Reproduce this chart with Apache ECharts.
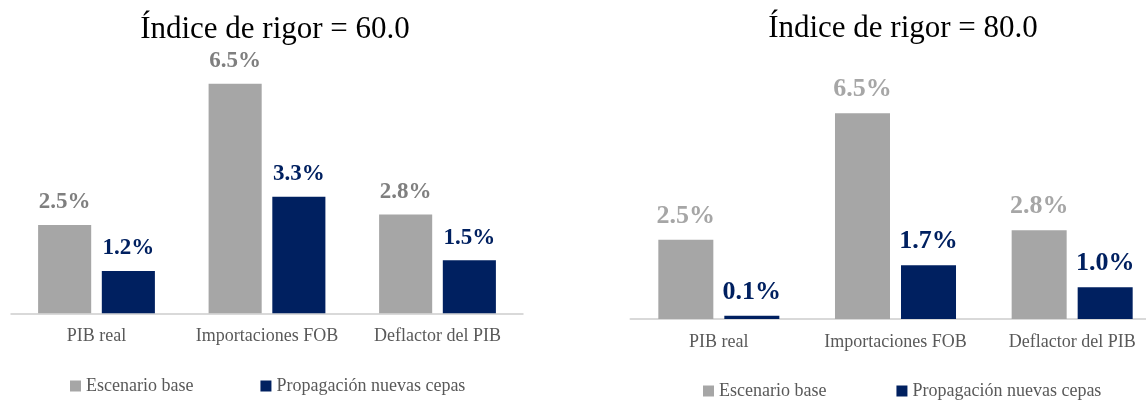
<!DOCTYPE html>
<html lang="es">
<head>
    <meta charset="UTF-8">
    <title>Índice de rigor</title>
    <script src="https://cdn.jsdelivr.net/npm/echarts@6/dist/echarts.min.js"></script>
    <style>
        html, body { margin: 0; padding: 0; background: #fff; overflow: hidden; }
        /* el grafico derecho sigue un poco mas alla del borde, como en el original */
        #main { width: 1170px; height: 402px; }
    </style>
</head>
<body>
<div id="main"></div>
<script>
    // datos (variacion %)
    var categorias = ['PIB real', 'Importaciones FOB', 'Deflactor del PIB'];
    var base60 = [2.5, 6.5, 2.8];
    var cepas60 = [1.2, 3.3, 1.5];
    var base80 = [2.5, 6.5, 2.8];
    var cepas80 = [0.1, 1.7, 1.0];
    var titulos = ['Índice de rigor = 60.0', 'Índice de rigor = 80.0'];
    var nombres = ['Escenario base', 'Propagación nuevas cepas'];

    var gris = '#a6a6a6', azul = '#002060';
    var serif = "'Liberation Serif', 'Times New Roman', serif";

    function fmt(p) {
        return p.value.toFixed(1) + '%';
    }

    function barra(nombre, datos, idx, color, labelColor, size) {
        return {
            name: nombre,
            type: 'bar',
            xAxisIndex: idx,
            yAxisIndex: idx,
            data: datos,
            barGap: '20%',
            barCategoryGap: '31.5%',
            itemStyle: { color: color },
            label: {
                show: true,
                position: 'top',
                distance: 11,
                formatter: fmt,
                color: labelColor,
                fontFamily: serif,
                fontWeight: 'bold',
                fontSize: size
            }
        };
    }

    function ejeX(idx) {
        return {
            type: 'category',
            gridIndex: idx,
            data: categorias,
            axisTick: { show: false },
            axisLine: { lineStyle: { color: '#d9d9d9', width: 2 } },
            axisLabel: { interval: 0, hideOverlap: false, margin: 14, color: '#595959', fontFamily: serif, fontSize: 18 }
        };
    }

    function ejeY(idx) {
        return { type: 'value', gridIndex: idx, min: 0, max: 7, show: false, splitLine: { show: false } };
    }

    var chart = echarts.init(document.getElementById('main'));
    var option = {
        animation: false,
        backgroundColor: '#fff',
        title: [
            { text: titulos[0], left: 275, textAlign: 'center', top: 14, padding: 0,
              textStyle: { fontFamily: serif, fontWeight: 'normal', fontSize: 31, color: '#000' } },
            { text: titulos[1], left: 903, textAlign: 'center', top: 13, padding: 0,
              textStyle: { fontFamily: serif, fontWeight: 'normal', fontSize: 31, color: '#000' } }
        ],
        legend: [
            { data: nombres, left: 70, top: 377, padding: 0, itemGap: 67, itemWidth: 11, itemHeight: 11, icon: 'rect',
              textStyle: { fontFamily: serif, fontSize: 18, color: '#595959' } },
            { data: nombres, left: 703, top: 382, padding: 0, itemGap: 70, itemWidth: 11, itemHeight: 11, icon: 'rect',
              textStyle: { fontFamily: serif, fontSize: 18, color: '#595959' } }
        ],
        grid: [
            { left: 11.25, width: 511.5, top: 66.2, bottom: 88.7 },
            { left: 630.5, width: 530, top: 97.4, bottom: 83 }
        ],
        xAxis: [ejeX(0), ejeX(1)],
        yAxis: [ejeY(0), ejeY(1)],
        series: [
            barra(nombres[0], base60, 0, gris, '#7f7f7f', 23),
            barra(nombres[1], cepas60, 0, azul, azul, 23),
            barra(nombres[0], base80, 1, gris, gris, 26),
            barra(nombres[1], cepas80, 1, azul, azul, 26)
        ]
    };
    chart.setOption(option);
</script>
</body>
</html>
